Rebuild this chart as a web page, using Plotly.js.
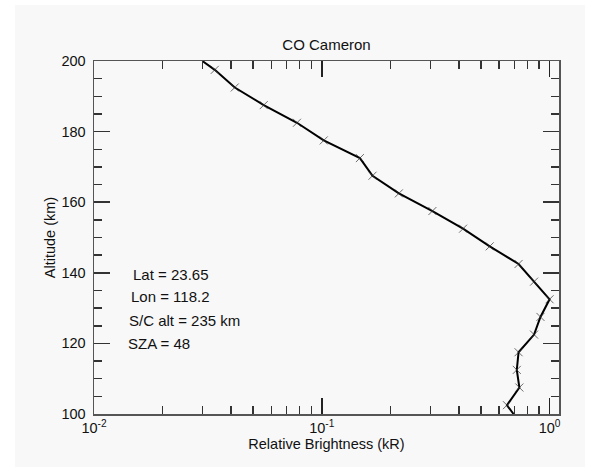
<!DOCTYPE html>
<html>
<head>
<meta charset="utf-8">
<script src="https://cdn.plot.ly/plotly-3.0.1.min.js"></script>
<style>html,body{margin:0;padding:0;background:#fff;}#chart{width:600px;height:472px;}</style>
</head>
<body>
<div id="chart"></div>
<script>
// Data
var altitude = [200, 197.5, 192.5, 187.5, 182.5, 177.5, 172.5, 167.5, 162.5, 157.5, 152.5, 147.5, 142.5, 137.5, 132.5, 127.5, 122.5, 117.5, 112.5, 107.5, 102.5, 100];
var brightness = [0.0299, 0.0339, 0.0415, 0.0556, 0.0778, 0.102, 0.147, 0.167, 0.218, 0.306, 0.417, 0.546, 0.731, 0.855, 1.0, 0.912, 0.855, 0.731, 0.718, 0.737, 0.650, 0.695];
var markerSizes = [0, 8, 8, 8, 8, 8, 8, 8, 8, 8, 8, 8, 8, 8, 8, 8, 8, 8, 8, 8, 8, 0];
var xTickVals = [0.01, 0.1, 1];
var xTickText = ['10<sup>-2</sup>', '10<sup>-1</sup>', '10<sup>0</sup>'];
var xMinorVals = [0.02,0.03,0.04,0.05,0.06,0.07,0.08,0.09,0.2,0.3,0.4,0.5,0.6,0.7,0.8,0.9];
var infoLines = ['Lat = 23.65', 'Lon = 118.2', 'S/C alt = 235 km', 'SZA = 48'];

var fam = 'Liberation Sans, Arial, Helvetica, sans-serif';
var font = {family: fam, size: 14.5, color: '#111'};
var bigFont = {family: fam, size: 15, color: '#111'};
var axisColor = '#555';
var tickColor = '#333';

var trace = {
  x: brightness, y: altitude, type: 'scatter', mode: 'lines+markers',
  line: {color: '#000', width: 2},
  marker: {symbol: 'x-thin', size: markerSizes, color: '#333', line: {color: '#333', width: 1}},
  cliponaxis: true, hoverinfo: 'x+y'
};

var infoX = [0.0796, 0.0753, 0.0703, 0.0682];
var infoY = [0.3966, 0.3323, 0.2643, 0.2003];
var annotations = infoLines.map(function(t, i){
  return {text: t, xref: 'paper', yref: 'paper', x: infoX[i], y: infoY[i], xanchor: 'left', yanchor: 'middle', showarrow: false, font: bigFont};
});

var layout = {
  width: 600, height: 472,
  margin: {l: 94, r: 41, t: 61, b: 58},
  paper_bgcolor: '#ffffff',
  plot_bgcolor: '#f8f8f8',
  font: font,
  showlegend: false,
  title: {text: 'CO Cameron', font: bigFont, x: 0.5, xref: 'paper', xanchor: 'center', y: 1, yref: 'paper', yanchor: 'bottom', pad: {b: 11}},
  xaxis: {
    type: 'log', range: [-2, 0.0414],
    tickmode: 'array', tickvals: xTickVals, ticktext: xTickText,
    ticks: 'inside', ticklen: 16, tickwidth: 1.5, tickcolor: '#222',
    minor: {tickmode: 'array', tickvals: xMinorVals, ticks: 'inside', ticklen: 8, tickwidth: 1.5, tickcolor: tickColor},
    showline: true, linecolor: axisColor, linewidth: 1.5, mirror: 'ticks',
    showgrid: false, zeroline: false,
    tickfont: font,
    title: {text: 'Relative Brightness (kR)', font: font, standoff: 0},
    automargin: false
  },
  yaxis: {
    range: [100, 200], tickmode: 'linear', tick0: 100, dtick: 20,
    ticks: 'inside', ticklen: 16, tickwidth: 1.5, tickcolor: tickColor,
    minor: {dtick: 5, ticks: 'inside', ticklen: 8, tickwidth: 1.5, tickcolor: tickColor},
    showline: true, linecolor: axisColor, linewidth: 1.5, mirror: 'ticks',
    showgrid: false, zeroline: false,
    tickfont: font, ticklabelstandoff: 4,
    title: {text: 'Altitude (km)', font: font},
    automargin: false
  },
  shapes: [{
    type: 'rect', xref: 'paper', yref: 'paper', layer: 'below',
    x0: -0.1699, x1: 1.0559, y0: -0.150, y1: 1.1586,
    fillcolor: '#f8f8f8', line: {width: 0}
  }],
  annotations: annotations
};

Plotly.newPlot('chart', [trace], layout, {staticPlot: true, displayModeBar: false});
</script>
</body>
</html>
